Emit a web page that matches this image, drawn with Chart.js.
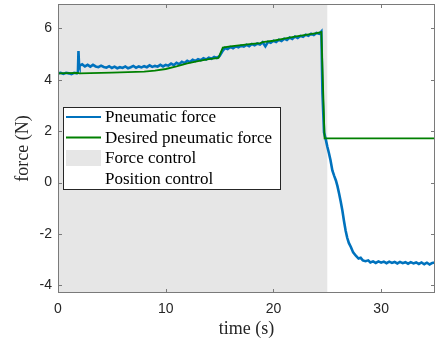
<!DOCTYPE html>
<html>
<head>
<meta charset="utf-8">
<script src="https://cdn.jsdelivr.net/npm/chart.js@4/dist/chart.umd.min.js"></script>
<style>
  html, body { margin: 0; padding: 0; background: #fff; }
  #wrap { width: 438px; height: 343px; }
</style>
</head>
<body>
<div id="wrap"><canvas id="forceChart" width="438" height="343"></canvas></div>
<script>
const tMeasured = [
  0, 0.25, 0.5, 0.75, 1, 1.25, 1.5, 1.75, 1.85, 1.9, 1.95,
  2, 2.25, 2.5, 2.75, 3, 3.25, 3.5, 3.75, 4, 4.25, 4.5, 4.75,
  5, 5.25, 5.5, 5.75, 6, 6.25, 6.5, 6.75, 7, 7.25, 7.5, 7.75,
  8, 8.25, 8.5, 8.75, 9, 9.25, 9.5, 9.75, 10, 10.25, 10.5, 10.75,
  11, 11.25, 11.5, 11.75, 12, 12.25, 12.5, 12.75, 13, 13.25, 13.5, 13.75,
  14, 14.25, 14.5, 14.75, 15, 15.25, 15.5, 15.75, 16, 16.25, 16.5, 16.75,
  17, 17.25, 17.5, 17.75, 18, 18.25, 18.5, 18.75, 19, 19.25, 19.5, 19.75,
  20, 20.25, 20.5, 20.75, 21, 21.25, 21.5, 21.75, 22, 22.25, 22.5, 22.75,
  23, 23.25, 23.5, 23.75, 24, 24.25, 24.45, 24.55, 24.7, 24.85,
  25, 25.15, 25.3, 25.47, 25.65, 25.8, 25.95, 26.1, 26.25, 26.4, 26.55, 26.7, 26.85,
  27, 27.2, 27.4, 27.65, 27.9, 28.1, 28.3, 28.55, 28.8,
  29, 29.25, 29.5, 29.75, 30, 30.25, 30.5, 30.75, 31, 31.25, 31.5, 31.75,
  32, 32.25, 32.5, 32.75, 33, 33.25, 33.5, 33.75, 34, 34.25, 34.5, 34.75, 35
];
const pneumaticForce = [
  4.25, 4.27, 4.23, 4.27, 4.25, 4.22, 4.27, 4.25, 4.28, 5.12, 4.62,
  4.55, 4.6, 4.52, 4.58, 4.51, 4.58, 4.52, 4.49, 4.55, 4.5, 4.47, 4.53,
  4.46, 4.51, 4.45, 4.49, 4.46, 4.52, 4.45, 4.49, 4.54, 4.47, 4.52, 4.48,
  4.53, 4.49, 4.56, 4.5, 4.54, 4.51, 4.58, 4.52, 4.58, 4.55, 4.63, 4.57,
  4.66, 4.61, 4.7, 4.65, 4.74, 4.69, 4.78, 4.73, 4.8, 4.76, 4.84, 4.79,
  4.86, 4.82, 4.89, 4.85, 4.92, 5.1, 5.24, 5.2, 5.28, 5.23, 5.3, 5.26,
  5.33, 5.29, 5.36, 5.31, 5.39, 5.34, 5.41, 5.37, 5.46, 5.3, 5.48, 5.44,
  5.52, 5.47, 5.56, 5.51, 5.6, 5.55, 5.64, 5.59, 5.68, 5.63, 5.71, 5.67,
  5.75, 5.71, 5.79, 5.74, 5.82, 5.79, 5.88, 3.5, 1.95, 1.7,
  1.4, 1.15, 0.87, 0.47, 0.25, 0.08, -0.15, -0.44, -0.75, -1.09, -1.5, -1.87, -2.15,
  -2.35, -2.52, -2.72, -2.85, -2.96, -2.93, -3.03, -3.06, -3.03,
  -3.11, -3.07, -3.13, -3.07, -3.12, -3.08, -3.14, -3.08, -3.13, -3.09, -3.15, -3.09,
  -3.14, -3.1, -3.16, -3.1, -3.15, -3.11, -3.17, -3.11, -3.18, -3.12, -3.19, -3.13, -3.11
];
// desired pneumatic force (green)
const tDesired = [0, 1.8, 2, 5, 8, 9, 10, 11, 12, 13, 14, 14.9, 15.3, 16, 17, 18, 18.8, 19, 20, 21, 22, 23, 24, 24.45, 24.75, 35];
const desiredForce = [4.25, 4.27, 4.25, 4.28, 4.32, 4.36, 4.42, 4.52, 4.64, 4.73, 4.8, 4.85, 5.25, 5.3, 5.35, 5.4, 5.43, 5.47, 5.52, 5.6, 5.68, 5.75, 5.82, 5.86, 1.72, 1.72];

// force control phase (grey), position control afterwards
const forceControlSpan = [0, 25];

const xRange = [0, 35];
const yRange = [-4.3, 6.95];
const xTicks = [0, 10, 20, 30];
const yTicks = [-4, -2, 0, 2, 4, 6];

const serif = '"Liberation Serif", "Times New Roman", serif';
const sans = '"Liberation Sans", Arial, sans-serif';

const toPoints = (xs, ys) => xs.map((x, i) => ({ x, y: ys[i] }));

const matlabAxes = {
  id: 'matlabAxes',
  beforeDatasetsDraw(chart) {
    const { ctx, chartArea: a, scales: { x } } = chart;
    const x0 = x.getPixelForValue(forceControlSpan[0]);
    const x1 = x.getPixelForValue(forceControlSpan[1]);
    ctx.save();
    ctx.fillStyle = '#e6e6e6';
    ctx.fillRect(x0, a.top, x1 - x0, a.bottom - a.top);
    ctx.restore();
  },
  afterDatasetsDraw(chart) {
    const { ctx, chartArea: a, scales: { x, y } } = chart;
    ctx.save();
    // box and inward ticks
    ctx.strokeStyle = '#7a7a7a';
    ctx.lineWidth = 1;
    ctx.strokeRect(a.left + 0.5, a.top + 0.5, a.right - a.left - 1, a.bottom - a.top - 1);
    ctx.beginPath();
    xTicks.forEach(v => {
      const px = Math.round(x.getPixelForValue(v)) + 0.5;
      ctx.moveTo(px, a.bottom); ctx.lineTo(px, a.bottom - 4);
      ctx.moveTo(px, a.top); ctx.lineTo(px, a.top + 4);
    });
    yTicks.forEach(v => {
      const py = Math.round(y.getPixelForValue(v)) + 0.5;
      ctx.moveTo(a.left, py); ctx.lineTo(a.left + 4, py);
      ctx.moveTo(a.right, py); ctx.lineTo(a.right - 4, py);
    });
    ctx.stroke();

    // legend
    const lx = a.left + 5, ly = a.top + 103, lw = 217, lh = 82;
    ctx.fillStyle = '#fff';
    ctx.fillRect(lx, ly, lw, lh);
    ctx.strokeStyle = '#262626';
    ctx.strokeRect(lx + 0.5, ly + 0.5, lw, lh);
    const items = [
      { label: 'Pneumatic force', line: '#0072bd' },
      { label: 'Desired pneumatic force', line: '#008000' },
      { label: 'Force control', patch: '#e6e6e6' },
      { label: 'Position control', patch: '#ffffff' }
    ];
    ctx.font = '17px ' + serif;
    ctx.textBaseline = 'middle';
    items.forEach((it, i) => {
      const cy = ly + 10 + i * 20.5;
      if (it.line) {
        ctx.strokeStyle = it.line;
        ctx.lineWidth = 2;
        ctx.beginPath();
        ctx.moveTo(lx + 3, cy); ctx.lineTo(lx + 38, cy);
        ctx.stroke();
      } else {
        ctx.fillStyle = it.patch;
        ctx.fillRect(lx + 3, cy - 8, 35, 16);
      }
      ctx.fillStyle = '#000';
      ctx.fillText(it.label, lx + 42, cy + 1);
    });
    ctx.restore();
  }
};

new Chart(document.getElementById('forceChart'), {
  type: 'line',
  data: {
    datasets: [
      {
        label: 'Pneumatic force',
        data: toPoints(tMeasured, pneumaticForce),
        borderColor: '#0072bd',
        borderWidth: 2.6,
        order: 2
      },
      {
        label: 'Desired pneumatic force',
        data: toPoints(tDesired, desiredForce),
        borderColor: '#008000',
        borderWidth: 1.8,
        order: 1
      }
    ]
  },
  options: {
    responsive: false,
    animation: false,
    devicePixelRatio: 1,
    elements: { point: { radius: 0 }, line: { tension: 0 } },
    layout: { padding: { left: 0, top: 4, right: 3, bottom: 0 } },
    plugins: { legend: { display: false }, tooltip: { enabled: false } },
    scales: {
      x: {
        type: 'linear',
        min: xRange[0], max: xRange[1],
        afterBuildTicks: s => { s.ticks = xTicks.map(v => ({ value: v })); },
        afterFit: s => { s.height = 50; s.paddingRight = 0; },
        grid: { display: false, drawTicks: false },
        border: { display: false },
        ticks: { color: '#262626', font: { family: sans, size: 14 }, padding: 8, maxRotation: 0, callback: v => String(v) },
        title: { display: true, text: 'time (s)', color: '#262626', font: { family: serif, size: 18 }, padding: { top: 0, bottom: 3 } }
      },
      y: {
        min: yRange[0], max: yRange[1],
        afterBuildTicks: s => { s.ticks = yTicks.map(v => ({ value: v })); },
        afterFit: s => { s.width = 58; s.paddingTop = 0; s.paddingBottom = 0; },
        grid: { display: false, drawTicks: false },
        border: { display: false },
        ticks: { color: '#262626', font: { family: sans, size: 14 }, padding: 6, callback: v => String(v) },
        title: { display: true, text: 'force (N)', color: '#262626', font: { family: serif, size: 18 }, padding: { top: 12, bottom: 0 } }
      }
    }
  },
  plugins: [matlabAxes]
});
</script>
</body>
</html>
